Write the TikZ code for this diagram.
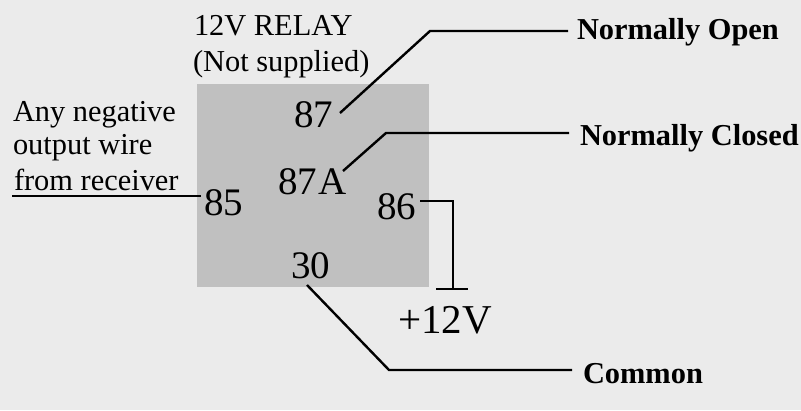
\documentclass[tikz,border=0pt]{standalone}
\usepackage{fontspec}
\setmainfont{Liberation Serif}
\definecolor{bgc}{RGB}{235,235,235}
\definecolor{relayc}{RGB}{192,192,192}
\tikzset{
 lab/.style={inner sep=0pt,outer sep=0pt,font=\fontsize{30.4}{32}\selectfont,anchor=base west},
 pin/.style={inner sep=0pt,outer sep=0pt,font=\fontsize{39}{41}\selectfont,anchor=base west},
 bold/.style={inner sep=0pt,outer sep=0pt,font=\fontsize{30.4}{32}\selectfont\bfseries,anchor=base west},
 wire/.style={line width=2.4pt,black}
}
\begin{document}
\begin{tikzpicture}[x=1pt,y=-1pt]
\useasboundingbox (0,0) rectangle (801,410);
\fill[bgc] (0,0) rectangle (801,410);
\node[fill=relayc,minimum width=232,minimum height=203,inner sep=0,anchor=north west] (relay) at (197,84) {};
\node[lab] (t1) at (194,35) {12V RELAY};
\node[lab] (t2) at (193,71) {(Not supplied)};
\node[lab] (a1) at (13,121) {Any negative};
\node[lab] (a2) at (13,154) {output wire};
\node[lab] (a3) at (14,190) {from receiver};
\node[pin] (p87) at (294,127) {87};
\node[pin] (p87a) at (278,194) {87\kern1.5pt A};
\node[pin] (p85) at (204,215) {85};
\node[pin] (p86) at (377,219) {86};
\node[pin] (p30) at (291,278) {30};
\node[font=\fontsize{41}{43}\selectfont,inner sep=0pt,anchor=base west] (v12) at (398,333) {+12V};
\node[bold] (no) at (577,39) {Normally Open};
\node[bold] (nc) at (580,145) {Normally Closed};
\node[bold] (co) at (583,383) {Common};
\coordinate (n0) at (12,196);
\draw[wire,shorten >=3pt] (n0) -- (p85.base west |- n0);
\draw[wire] (340,113) -- (430,31) -- (568,31);
\draw[wire] (343,171) -- (386,133) -- (569,133);
\draw[wire] (307,285) -- (389,370) -- (572,370);
\draw[wire] (420,201) -- (453,201) -- (453,289);
\draw[wire] (436,289) -- (468,289);
\end{tikzpicture}
\end{document}
